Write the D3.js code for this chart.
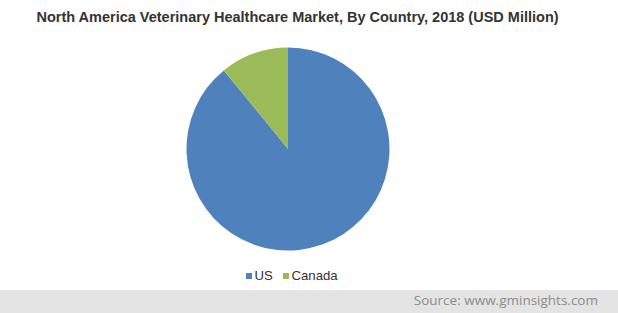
<!DOCTYPE html>
<html><head><meta charset="utf-8">
<script src="https://cdn.jsdelivr.net/npm/d3@7"></script>
<style>body{margin:0;background:#fff}svg{display:block}</style>
</head><body>
<svg id="c" width="618" height="313"></svg>
<script>
const categories = ["US", "Canada"];
const values = [89.1, 10.9];
const colors = ["#4f81bd", "#9bbb59"];
const title = "North America Veterinary Healthcare Market, By Country, 2018 (USD Million)";
const source = "Source: www.gminsights.com";

const svg = d3.select("#c");
svg.append("rect").attr("x",0).attr("y",290).attr("width",618).attr("height",23).attr("fill","#e4e4e4");
svg.append("text").attr("x",297.5).attr("y",22).attr("text-anchor","middle")
  .attr("font-family","Liberation Sans, Arial, sans-serif").attr("font-weight","bold")
  .attr("font-size",14.5).attr("fill","#333").text(title);

const cx = 288, cy = 149, r = 101.5;
const pie = d3.pie().sort(null).startAngle(0).endAngle(2*Math.PI)(values);
const arc = d3.arc().innerRadius(0).outerRadius(r);
const g = svg.append("g").attr("transform",`translate(${cx},${cy})`);
g.selectAll("path").data(pie).join("path").attr("d",arc).attr("fill",(d,i)=>colors[i]);

const color = d3.scaleOrdinal().domain(categories).range(colors);
const leg = svg.append("g").attr("font-family","Liberation Sans, Arial, sans-serif").attr("font-size",13.2).attr("fill","#333");
const offs = [246, 283];
categories.forEach((c,i)=>{
  leg.append("rect").attr("x",offs[i]).attr("y",273).attr("width",6).attr("height",6).attr("fill",color(c));
  leg.append("text").attr("x",offs[i]+8.5).attr("y",280).text(c);
});
svg.append("text").attr("x",598).attr("y",305).attr("text-anchor","end")
  .attr("font-family","Open Sans, sans-serif").attr("font-size",13.5).attr("fill","#8c8c8c").text(source);
</script>
</body></html>
